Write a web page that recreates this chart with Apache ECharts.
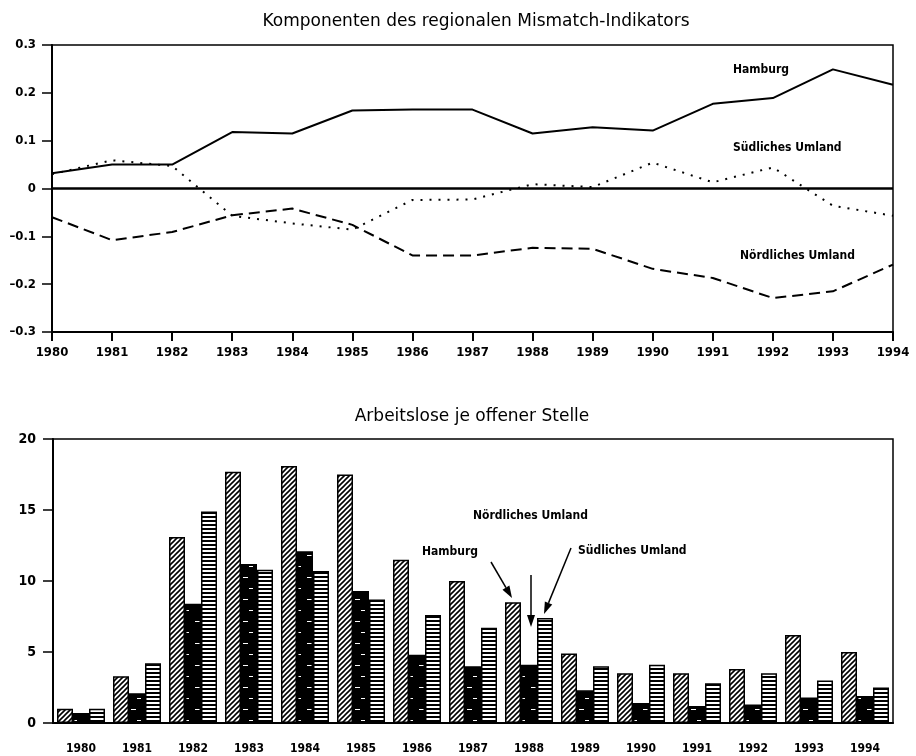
<!DOCTYPE html>
<html>
<head>
<meta charset="utf-8">
<script src="https://cdn.jsdelivr.net/npm/echarts@6/dist/echarts.min.js"></script>
<style>
  html, body { margin: 0; padding: 0; background: #fff; }
  #chart { width: 916px; height: 756px; }
</style>
</head>
<body>
<div id="chart"></div>
<script>
var years = ["1980", "1981", "1982", "1983", "1984", "1985", "1986", "1987",
  "1988", "1989", "1990", "1991", "1992", "1993", "1994"];

// Komponenten des regionalen Mismatch-Indikators
var mmHamburg = [0.032, 0.05, 0.05, 0.118, 0.115, 0.163, 0.165, 0.165, 0.115, 0.128, 0.121, 0.177, 0.189, 0.249, 0.217];
var mmSued = [0.03, 0.059, 0.047, -0.057, -0.073, -0.086, -0.024, -0.023, 0.009, 0.003, 0.054, 0.013, 0.044, -0.036, -0.057];
var mmNord = [-0.06, -0.108, -0.091, -0.056, -0.042, -0.076, -0.14, -0.14, -0.124, -0.126, -0.168, -0.187, -0.229, -0.215, -0.159];

// Arbeitslose je offener Stelle
var alHamburg = [1.0, 3.3, 13.1, 17.7, 18.1, 17.5, 11.5, 10.0, 8.5, 4.9, 3.5, 3.5, 3.8, 6.2, 5.0];
var alNord = [0.7, 2.1, 8.4, 11.2, 12.1, 9.3, 4.8, 4.0, 4.1, 2.3, 1.4, 1.2, 1.3, 1.8, 1.9];
var alSued = [1.0, 4.2, 14.9, 10.8, 10.7, 8.7, 7.6, 6.7, 7.4, 4.0, 4.1, 2.8, 3.5, 3.0, 2.5];

var FONT = "'DejaVu Sans Condensed', 'Liberation Sans Narrow', sans-serif";
var TITLE_FONT = "'DejaVu Sans', sans-serif";

function hatchPattern() {
  var c = document.createElement("canvas");
  c.width = 5; c.height = 5;
  var g = c.getContext("2d");
  g.fillStyle = "#fff"; g.fillRect(0, 0, 5, 5);
  g.strokeStyle = "#000"; g.lineWidth = 1.6;
  g.beginPath();
  g.moveTo(0, 5); g.lineTo(5, 0);
  g.moveTo(-1, 1); g.lineTo(1, -1);
  g.moveTo(4, 6); g.lineTo(6, 4);
  g.stroke();
  return c;
}
function stripePattern() {
  var c = document.createElement("canvas");
  c.width = 4; c.height = 4;
  var g = c.getContext("2d");
  g.fillStyle = "#fff"; g.fillRect(0, 0, 4, 4);
  g.fillStyle = "#000"; g.fillRect(0, 0, 4, 2);
  return c;
}
function darkPattern() {
  var c = document.createElement("canvas");
  c.width = 16; c.height = 22;
  var g = c.getContext("2d");
  g.fillStyle = "#000"; g.fillRect(0, 0, 16, 22);
  g.fillStyle = "#fff";
  g.fillRect(3, 5, 5, 1);
  g.fillRect(9, 16, 4, 1);
  return c;
}

function arrow(x1, y1, x2, y2) {
  var ang = Math.atan2(y2 - y1, x2 - x1);
  var len = 12, half = 4;
  var bx = x2 - len * Math.cos(ang), by = y2 - len * Math.sin(ang);
  var px = -Math.sin(ang) * half, py = Math.cos(ang) * half;
  return [
    { type: "line", shape: { x1: x1, y1: y1, x2: bx, y2: by }, style: { stroke: "#000", lineWidth: 1.5 } },
    { type: "polygon", shape: { points: [[x2, y2], [bx + px, by + py], [bx - px, by - py]] }, style: { fill: "#000" } }
  ];
}

function label(text, x, y) {
  return {
    type: "text", x: x, y: y,
    style: { text: text, font: "bold 12px " + FONT, fill: "#000", textVerticalAlign: "middle" }
  };
}

var tickStyle = { color: "#000", fontFamily: FONT, fontWeight: "bold", fontSize: 13 };

var chart = echarts.init(document.getElementById("chart"));

var option = {
  animation: false,
  backgroundColor: "#fff",
  title: [
    { text: "Komponenten des regionalen Mismatch-Indikators", left: 471, textAlign: "center", top: 8,
      textStyle: { fontFamily: TITLE_FONT, fontSize: 17, fontWeight: "normal", color: "#000" } },
    { text: "Arbeitslose je offener Stelle", left: 467, textAlign: "center", top: 403,
      textStyle: { fontFamily: TITLE_FONT, fontSize: 17, fontWeight: "normal", color: "#000" } }
  ],
  grid: [
    { left: 52, right: 23, top: 45, height: 287, show: true, borderColor: "#000", borderWidth: 1.5 },
    { left: 53, right: 23, top: 439, height: 284, show: true, borderColor: "#000", borderWidth: 1.5 }
  ],
  xAxis: [
    {
      gridIndex: 0, type: "category", data: years, boundaryGap: false,
      axisLine: { onZero: false, lineStyle: { color: "#000", width: 2 } },
      axisTick: { length: 9, lineStyle: { color: "#000", width: 2 } },
      axisLabel: Object.assign({ margin: 14, interval: 0 }, tickStyle),
      splitLine: { show: false }
    },
    {
      gridIndex: 1, type: "category", data: years,
      axisLine: { lineStyle: { color: "#000", width: 2 } },
      axisTick: { alignWithLabel: true, length: 9, lineStyle: { color: "#000", width: 2 } },
      axisLabel: Object.assign({ margin: 20, interval: 0 }, tickStyle, { fontSize: 12 }),
      splitLine: { show: false }
    }
  ],
  yAxis: [
    {
      gridIndex: 0, type: "value", min: -0.3, max: 0.3, interval: 0.1,
      axisLine: { show: true, lineStyle: { color: "#000", width: 2 } },
      axisTick: { show: true, length: 10, lineStyle: { color: "#000", width: 1.5 } },
      axisLabel: Object.assign({
        margin: 16,
        formatter: function (v) {
          if (Math.abs(v) < 1e-9) return "0";
          return (v < 0 ? "\u2013" : "") + Math.abs(v).toFixed(1);
        }
      }, tickStyle),
      splitLine: { show: false }
    },
    {
      gridIndex: 1, type: "value", min: 0, max: 20, interval: 5,
      axisLine: { show: true, lineStyle: { color: "#000", width: 2 } },
      axisTick: { show: true, length: 10, lineStyle: { color: "#000", width: 1.5 } },
      axisLabel: Object.assign({ margin: 17 }, tickStyle, { fontSize: 14 }),
      splitLine: { show: false }
    }
  ],
  series: [
    {
      name: "Hamburg", type: "line", xAxisIndex: 0, yAxisIndex: 0, data: mmHamburg,
      symbol: "none", lineStyle: { color: "#000", width: 2 },
      markLine: {
        silent: true, symbol: "none", label: { show: false },
        lineStyle: { color: "#000", width: 2.5, type: "solid" },
        data: [{ yAxis: 0 }]
      }
    },
    {
      name: "Südliches Umland", type: "line", xAxisIndex: 0, yAxisIndex: 0, data: mmSued,
      symbol: "none", lineStyle: { color: "#000", width: 2, type: [2, 7] }
    },
    {
      name: "Nördliches Umland", type: "line", xAxisIndex: 0, yAxisIndex: 0, data: mmNord,
      symbol: "none", lineStyle: { color: "#000", width: 2, type: [11, 6] }
    },
    {
      name: "Hamburg", type: "bar", xAxisIndex: 1, yAxisIndex: 1, data: alHamburg,
      barWidth: 16, barGap: "0%",
      itemStyle: { color: { image: hatchPattern(), repeat: "repeat" }, borderColor: "#000", borderWidth: 1.5 }
    },
    {
      name: "Nördliches Umland", type: "bar", xAxisIndex: 1, yAxisIndex: 1, data: alNord,
      barWidth: 16, barGap: "0%",
      itemStyle: { color: { image: darkPattern(), repeat: "repeat" }, borderColor: "#000", borderWidth: 1.5 }
    },
    {
      name: "Südliches Umland", type: "bar", xAxisIndex: 1, yAxisIndex: 1, data: alSued,
      barWidth: 16, barGap: "0%",
      itemStyle: { color: { image: stripePattern(), repeat: "repeat" }, borderColor: "#000", borderWidth: 1.5 }
    }
  ],
  graphic: [
    label("Hamburg", 733, 70),
    label("Südliches Umland", 733, 148),
    label("Nördliches Umland", 740, 256),
    label("Nördliches Umland", 473, 516),
    label("Hamburg", 422, 552),
    label("Südliches Umland", 578, 551)
  ].concat(arrow(491, 562, 512, 598))
   .concat(arrow(531, 575, 531, 627))
   .concat(arrow(571, 548, 544, 614))
};

chart.setOption(option);
</script>
</body>
</html>
